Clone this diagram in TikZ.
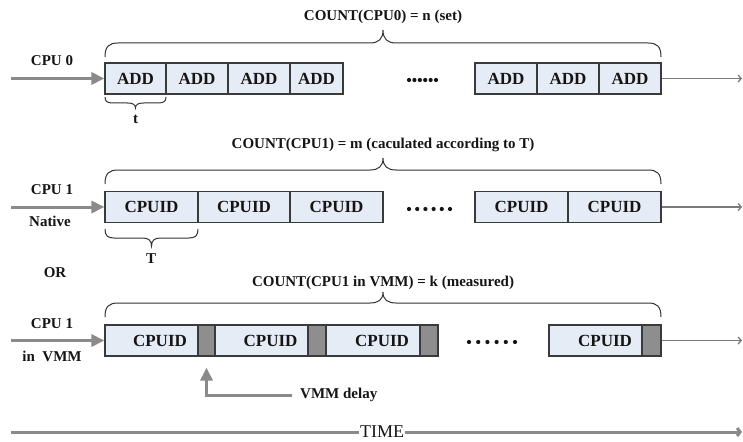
\documentclass[tikz,border=0pt]{standalone}
\usepackage{fontspec}
\setmainfont{Liberation Serif}
\usetikzlibrary{arrows.meta,calc}

\definecolor{slotfill}{HTML}{E6ECF6}
\definecolor{delayfill}{HTML}{8E8E8E}
\definecolor{boxline}{HTML}{3A3A3A}
\definecolor{feedgray}{HTML}{8A8A8A}
\definecolor{flowgray}{HTML}{7A7A7A}
\definecolor{braceline}{HTML}{333333}
\definecolor{txt}{HTML}{151515}

% curly brace: #1 left x, #2 right x, #3 base y, #4 offset of the straight part,
% #5 offset of the tip, #6 corner width, #7 direction (-1 up, +1 down)
\newcommand\curlybrace[7]{%
  \draw[bracestyle] ({#1},{#3})
    .. controls ({#1},{#3+0.75*(#7)*#4}) and ({#1+0.3*#6},{#3+(#7)*#4}) .. ({#1+#6},{#3+(#7)*#4})
    -- ({(#1+#2)/2-#6},{#3+(#7)*#4})
    .. controls ({(#1+#2)/2-0.35*#6},{#3+(#7)*#4}) and ({(#1+#2)/2},{#3+(#7)*(#4+0.3*(#5-#4))}) .. ({(#1+#2)/2},{#3+(#7)*#5})
    .. controls ({(#1+#2)/2},{#3+(#7)*(#4+0.3*(#5-#4))}) and ({(#1+#2)/2+0.35*#6},{#3+(#7)*#4}) .. ({(#1+#2)/2+#6},{#3+(#7)*#4})
    -- ({#2-#6},{#3+(#7)*#4})
    .. controls ({#2-0.3*#6},{#3+(#7)*#4}) and ({#2},{#3+0.75*(#7)*#4}) .. ({#2},{#3});
}

\begin{document}
\begin{tikzpicture}[x=1pt,y=-1pt,
  slot/.style={draw=boxline,line width=1.2pt,fill=slotfill,minimum height=31pt,
    inner sep=0pt,text=txt,font=\fontsize{17}{20}\selectfont\bfseries},
  delay/.style={draw=boxline,line width=1.2pt,fill=delayfill,minimum height=31pt,inner sep=0pt},
  boxtext/.style={inner sep=0pt,text=txt,font=\fontsize{17}{20}\selectfont\bfseries},
  lbl/.style={inner sep=0pt,text=txt,font=\fontsize{15}{18}\selectfont\bfseries},
  feed/.style={draw=feedgray,line width=3pt,-{Triangle[length=13pt,width=12pt]}},
  flow/.style={draw=flowgray,line width=1.3pt,-{Straight Barb[length=3pt,width=7pt]}},
  timeline/.style={draw=feedgray,line width=3pt},
  bracestyle/.style={draw=braceline,line width=1pt}
]
\useasboundingbox[fill=white] (0,0) rectangle (743,441);

% ---------- CPU 0 : ADD instructions ----------
\node[slot,minimum width=61pt] (a1) at (135.5,78.5) {ADD};
\node[slot,minimum width=62pt] (a2) at (197,78.5) {ADD};
\node[slot,minimum width=62pt] (a3) at (259,78.5) {ADD};
\node[slot,minimum width=53pt] (a4) at (316.5,78.5) {ADD};
\node[slot,minimum width=62pt] (a5) at (506,78.5) {ADD};
\node[slot,minimum width=62pt] (a6) at (568,78.5) {ADD};
\node[slot,minimum width=62pt] (a7) at (630,78.5) {ADD};
\foreach \i in {0,...,5} \fill[txt] ({409+5.4*\i},80) circle (2.1pt);

\node[lbl] (cpu0) at (52,61) {CPU 0};
\coordinate (s0) at (11,78.5);
\coordinate (e0) at (742,78.5);
\draw[feed] (s0) -- (a1.west);
\draw[flow] (a7.east) -- (e0);

\curlybrace{105}{661}{57}{14}{27}{13}{-1}
\node[lbl] (cnt0) at (383,17) {COUNT(CPU0) = n (set)};
\curlybrace{105}{166}{97}{6}{11}{8}{1}
\node[lbl] (tl) at (135.5,119) {t};

% ---------- CPU 1 native : CPUID instructions ----------
\node[slot,minimum width=93pt] (b1) at (151.5,207) {CPUID};
\node[slot,minimum width=92pt] (b2) at (244,207) {CPUID};
\node[slot,minimum width=93pt] (b3) at (336.5,207) {CPUID};
\node[slot,minimum width=93pt] (b4) at (521.5,207) {CPUID};
\node[slot,minimum width=93pt] (b5) at (614.5,207) {CPUID};
\foreach \i in {0,...,5} \fill[txt] ({409+8.2*\i},209) circle (2.1pt);

\node[lbl] (cpu1) at (52,190) {CPU 1};
\node[lbl] (nat) at (50,221) {Native};
\coordinate (s1) at (11,207);
\coordinate (e1) at (742,207);
\draw[feed] (s1) -- (b1.west);
\draw[flow] (b5.east) -- (e1);

\curlybrace{105}{661}{184}{14}{26}{13}{-1}
\node[lbl] (cnt1) at (383,145) {COUNT(CPU1) = m (caculated according to T)};
\curlybrace{105}{198}{229}{9}{17}{9}{1}
\node[lbl] (tu) at (151,259) {T};

\node[lbl] (or) at (55,273) {OR};

% ---------- CPU 1 in VMM : CPUID plus VMM delay ----------
\node[slot,minimum width=93pt] (c1) at (151.5,340.5) {};
\node[delay,minimum width=17pt] (d1) at (206.5,340.5) {};
\node[slot,minimum width=93pt] (c2) at (261.5,340.5) {};
\node[delay,minimum width=18pt] (d2) at (317,340.5) {};
\node[slot,minimum width=94pt] (c3) at (373,340.5) {};
\node[delay,minimum width=18pt] (d3) at (429,340.5) {};
\node[slot,minimum width=93pt] (c4) at (595.5,340.5) {};
\node[delay,minimum width=19pt] (d4) at (651.5,340.5) {};
\node[boxtext] (ct1) at ($(c1.west)!0.5!(d1.east)$) {CPUID};
\node[boxtext] (ct2) at ($(c2.west)!0.5!(d2.east)$) {CPUID};
\node[boxtext] (ct3) at ($(c3.west)!0.5!(d3.east)$) {CPUID};
\node[boxtext] (ct4) at ($(c4.west)!0.5!(d4.east)$) {CPUID};
\foreach \i in {0,...,5} \fill[txt] ({469+9.2*\i},342) circle (2.1pt);

\node[lbl] (cpu1v) at (52,324) {CPU 1};
\node[lbl] (invmm) at (52,356) {in\ \ VMM};
\coordinate (s2) at (11,340.5);
\coordinate (e2) at (742,340.5);
\draw[feed] (s2) -- (c1.west);
\draw[flow] (d4.east) -- (e2);

\curlybrace{105}{661}{317}{14}{25}{13}{-1}
\node[lbl] (cnt2) at (383,283) {COUNT(CPU1 in VMM) = k (measured)};

% VMM delay pointer
\node[lbl,anchor=west] (vd) at (300,395) {VMM delay};
\coordinate (vt) at ($(d1.south)+(0,11)$);
\draw[feed] ([xshift=-8pt]vd.west) -| (vt);

% ---------- time axis ----------
\node[inner sep=1pt,text=txt,font=\fontsize{18}{20}\selectfont] (time) at (382,432) {TIME};
\coordinate (t0) at (11,432);
\coordinate (t1) at (742,432);
\draw[timeline] (t0) -- (time.west);
\draw[timeline,-{Straight Barb[length=3pt,width=8pt]}] (time.east) -- (t1);
\end{tikzpicture}
\end{document}
